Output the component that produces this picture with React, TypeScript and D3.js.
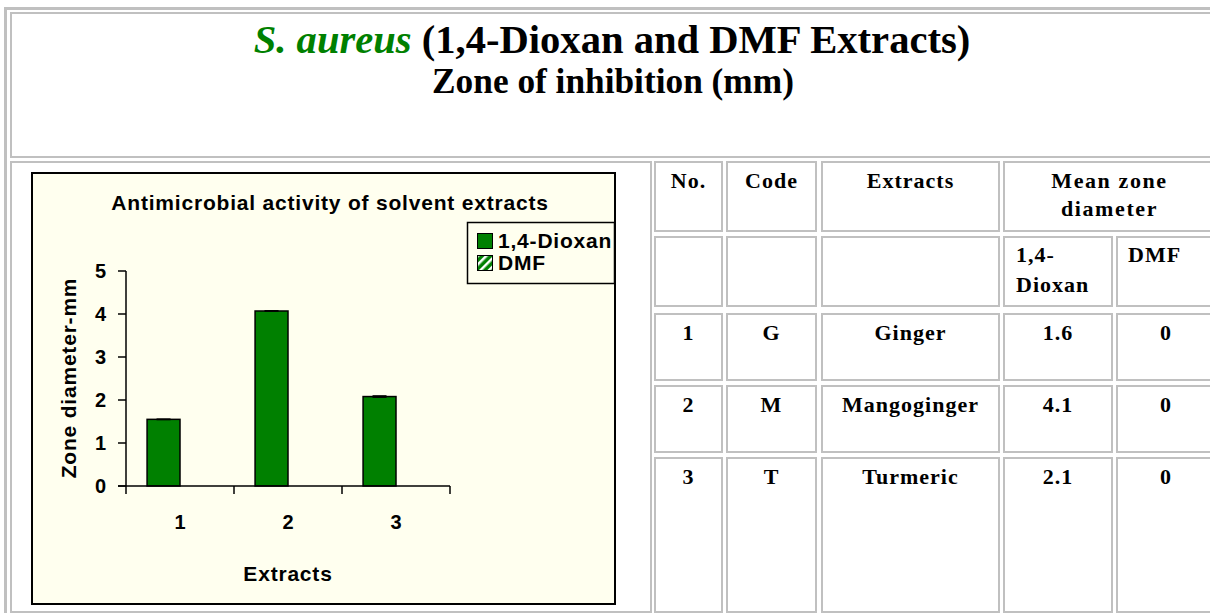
import * as d3 from 'd3';

// bar chart values (mm)
const categories = ['1', '2', '3'];
const seriesNames = ['1,4-Dioxan', 'DMF'];
const dioxanBars = [1.55, 4.07, 2.08];
const dmfBars = [0, 0, 0];
const dioxanErr = [0.01, 0.01, 0.02];

// table on the right
const rowNos = ['1', '2', '3'];
const rowCodes = ['G', 'M', 'T'];
const rowExtracts = ['Ginger', 'Mangoginger', 'Turmeric'];
const meanDioxan = ['1.6', '4.1', '2.1'];
const meanDmf = ['0', '0', '0'];

const W = 1210;
const H = 613;
const GRAY = '#c0c0c0';
const SERIF = '"Liberation Serif", "Times New Roman", serif';
const SANS = '"Liberation Sans", Arial, sans-serif';

// html-table look: columns / rows of the nested table
const colEdges = [[654, 723], [726, 817], [821, 1000], [1003, 1113], [1116, 1216]];
const rowEdges = [[161, 232], [236, 307], [313, 381], [385, 453], [457, 613]];

function Cell({ x0, x1, y0, y1, w = 2 }: { x0: number; x1: number; y0: number; y1: number; w?: number }) {
  return (
    <rect x={x0 + w / 2} y={y0 + w / 2} width={x1 - x0 - w} height={y1 - y0 - w}
      fill="none" stroke={GRAY} strokeWidth={w} />
  );
}

function Chart() {
  const x0 = d3.scaleBand().domain(categories).range([126, 450]).padding(0);
  const x1 = d3.scaleBand().domain(seriesNames).range([0, x0.bandwidth()])
    .paddingInner(0).paddingOuter(0.64);
  const y = d3.scaleLinear().domain([0, 5]).range([486, 271]);
  const ticks = y.ticks(5);
  const values = [dioxanBars, dmfBars];
  const sp = 0.8;
  const fs = 21;

  return (
    <g fontFamily={SANS} fontWeight="bold" fill="#000">
      <rect x={32} y={173} width={583} height={431} fill="#ffffef" stroke="#000" strokeWidth={2} />
      <text x={330} y={210} textAnchor="middle" fontSize={fs} letterSpacing={sp}>
        Antimicrobial activity of solvent extracts
      </text>

      {/* bars */}
      {categories.map((c, i) => (
        <g key={c} transform={`translate(${x0(c)},0)`}>
          {seriesNames.map((s, j) => {
            const v = values[j][i];
            if (v <= 0) return null;
            return (
              <rect key={s} x={x1(s)} y={y(v)} width={x1.bandwidth()} height={y(0) - y(v)}
                fill={j === 0 ? '#008000' : 'url(#dmfHatch)'} stroke="#000" strokeWidth={1.5} />
            );
          })}
          {/* tiny error caps */}
          <line x1={(x1('1,4-Dioxan') as number) + x1.bandwidth() / 2 - 7}
            x2={(x1('1,4-Dioxan') as number) + x1.bandwidth() / 2 + 7}
            y1={y(dioxanBars[i] - dioxanErr[i])} y2={y(dioxanBars[i] - dioxanErr[i])}
            stroke="#000" strokeWidth={1} />
          <line x1={(x1('1,4-Dioxan') as number) + x1.bandwidth() / 2 - 7}
            x2={(x1('1,4-Dioxan') as number) + x1.bandwidth() / 2 + 7}
            y1={y(dioxanBars[i] + dioxanErr[i])} y2={y(dioxanBars[i] + dioxanErr[i])}
            stroke="#000" strokeWidth={1} />
        </g>
      ))}

      {/* y axis */}
      <line x1={126} x2={126} y1={y(5)} y2={y(0)} stroke="#000" strokeWidth={1.5} />
      {ticks.map(t => (
        <g key={t}>
          <line x1={118} x2={126} y1={y(t)} y2={y(t)} stroke="#000" strokeWidth={1.5} />
          <text x={106} y={y(t)} dy="0.36em" textAnchor="end" fontSize={20}>{t}</text>
        </g>
      ))}

      {/* x axis */}
      <line x1={118} x2={450} y1={y(0)} y2={y(0)} stroke="#000" strokeWidth={1.5} />
      {[...categories.map(c => x0(c) as number), 450].map(xv => (
        <line key={xv} x1={xv} x2={xv} y1={y(0)} y2={y(0) + 8} stroke="#000" strokeWidth={1.5} />
      ))}
      {categories.map(c => (
        <text key={c} x={(x0(c) as number) + x0.bandwidth() / 2} y={529} textAnchor="middle" fontSize={20}>{c}</text>
      ))}

      <text x={288} y={581} textAnchor="middle" fontSize={fs} letterSpacing={sp}>Extracts</text>
      <text transform="translate(76,378) rotate(-90)" textAnchor="middle" fontSize={fs} letterSpacing={sp}>
        Zone diameter-mm
      </text>

      {/* legend */}
      <rect x={467.5} y={222.5} width={147} height={61} fill="#ffffef" stroke="#000" strokeWidth={1.5} />
      {seriesNames.map((s, j) => (
        <g key={s} transform={`translate(477,${233 + j * 22})`}>
          <rect x={0.5} y={0.5} width={15} height={15} fill={j === 0 ? '#008000' : 'url(#dmfHatch)'}
            stroke="#000" strokeWidth={1} />
          <text x={21} y={14.5} fontSize={fs} letterSpacing={sp}>{s}</text>
        </g>
      ))}
    </g>
  );
}

function DataTable() {
  const cx = (c: number) => (colEdges[c][0] + colEdges[c][1]) / 2;
  const rows = rowNos.map((n, i) => [n, rowCodes[i], rowExtracts[i], meanDioxan[i], meanDmf[i]]);
  return (
    <g fontFamily={SERIF} fontWeight="bold" fontSize={22} letterSpacing={1} fill="#000">
      {/* header row */}
      {[0, 1, 2].map(c => (
        <Cell key={c} x0={colEdges[c][0]} x1={colEdges[c][1]} y0={rowEdges[0][0]} y1={rowEdges[0][1]} />
      ))}
      <Cell x0={colEdges[3][0]} x1={colEdges[4][1]} y0={rowEdges[0][0]} y1={rowEdges[0][1]} />
      <text x={cx(0)} y={188} textAnchor="middle">No.</text>
      <text x={cx(1)} y={188} textAnchor="middle">Code</text>
      <text x={cx(2)} y={188} textAnchor="middle">Extracts</text>
      <text x={(colEdges[3][0] + colEdges[4][1]) / 2} y={188} textAnchor="middle" letterSpacing={1.6}>Mean zone</text>
      <text x={(colEdges[3][0] + colEdges[4][1]) / 2} y={216} textAnchor="middle" letterSpacing={1.6}>diameter</text>

      {/* sub header + data rows */}
      {rowEdges.slice(1).map((r, ri) => (
        <g key={ri}>
          {colEdges.map((c, ci) => (
            <Cell key={ci} x0={c[0]} x1={c[1]} y0={r[0]} y1={r[1]} />
          ))}
        </g>
      ))}
      <text x={colEdges[3][0] + 13} y={262}>1,4-</text>
      <text x={colEdges[3][0] + 13} y={292}>Dioxan</text>
      <text x={colEdges[4][0] + 12} y={262}>DMF</text>

      {rows.map((row, i) => (
        <g key={i}>
          {row.map((v, c) => (
            <text key={c} x={cx(c)} y={rowEdges[i + 2][0] + 27} textAnchor="middle">{v}</text>
          ))}
        </g>
      ))}
    </g>
  );
}

export default function App() {
  return (
    <svg width={W} height={H} style={{ position: 'absolute', left: 0, top: 0, background: '#fff' }}>
      <defs>
        <pattern id="dmfHatch" width={6} height={6} patternUnits="userSpaceOnUse" patternTransform="rotate(45)">
          <rect width={6} height={6} fill="#008000" />
          <rect width={2.5} height={6} fill="#fff" />
        </pattern>
      </defs>
      <rect width={W} height={H} fill="#fff" />

      {/* outer page table + cells */}
      <Cell x0={4} x1={W + 20} y0={7} y1={H + 20} w={3} />
      <Cell x0={10} x1={W + 10} y0={12} y1={158} />
      <Cell x0={10} x1={652} y0={161} y1={613} />

      <text x={612} y={53} textAnchor="middle" fontFamily={SERIF} fontWeight="bold" fontSize={40.6}>
        <tspan fill="#008000" fontStyle="italic">S. aureus</tspan>
        <tspan fill="#000"> (1,4-Dioxan and DMF Extracts)</tspan>
      </text>
      <text x={613} y={93} textAnchor="middle" fontFamily={SERIF} fontWeight="bold" fontSize={35.3}>
        Zone of inhibition (mm)
      </text>

      <Chart />
      <DataTable />
    </svg>
  );
}
